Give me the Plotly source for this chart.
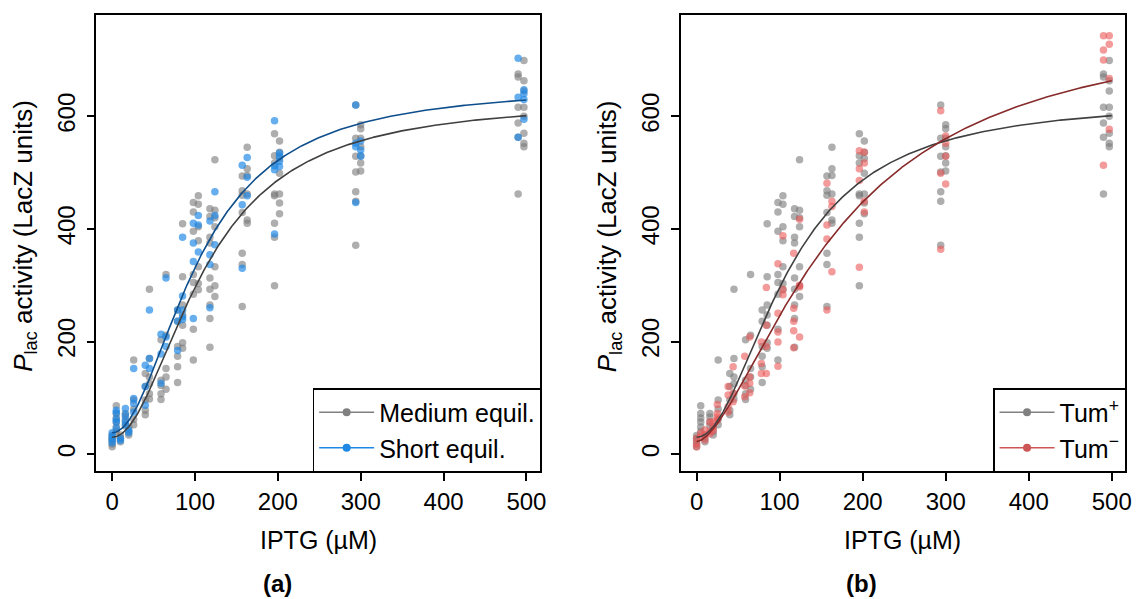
import numpy as np
import plotly.graph_objects as go

W, H = 1142, 599

# ---------------- data ----------------
# Medium equilibration / Tum+ (same measurements in both panels)
medium_conc = [0, 5, 10, 16, 20, 26, 40, 45, 59, 65, 79, 85, 98, 104,
               118, 124, 157, 163, 196, 202, 294, 300, 490, 497]
medium_values = [
    [13, 18, 24, 28, 33],
    [86, 72, 64, 57, 48, 40],
    [34, 28, 22],
    [72, 66, 57, 50],
    [48, 40, 34],
    [167, 96, 80, 62, 52],
    [143, 120, 96, 78, 70],
    [293, 170, 137, 125, 107, 98],
    [203, 131, 122, 107, 97],
    [319, 211, 152, 137, 115],
    [256, 236, 191, 174, 155, 127],
    [409, 315, 265, 247, 229, 198, 188],
    [447, 430, 396, 319, 305, 284, 222, 167],
    [459, 444, 404, 379, 333, 303, 292],
    [436, 422, 385, 375, 313, 293, 265, 241, 190],
    [523, 433, 420, 404, 333, 299, 280],
    [494, 468, 460, 429, 357, 337, 262],
    [545, 507, 495, 462, 416, 410],
    [569, 530, 517, 462, 459, 410, 385, 299],
    [556, 536, 525, 499, 462, 446, 427],
    [620, 561, 529, 501, 466, 449, 371],
    [585, 578, 561, 546, 530, 517, 503],
    [675, 670, 616, 588, 563, 462],
    [699, 663, 645, 616, 600, 570, 552, 546],
]

# Short equilibration
short_conc = [0, 5, 10, 16, 20, 26, 40, 45, 59, 65, 79, 85, 98, 104,
              118, 124, 157, 163, 196, 202, 294, 300, 490, 497]
short_values = [
    [20, 26, 32, 38],
    [78, 73, 62, 57, 46],
    [28, 24],
    [81, 70, 60, 52],
    [43, 38],
    [152, 99, 90, 75],
    [158, 120, 87],
    [256, 170, 152],
    [213, 178, 126],
    [313, 208, 191],
    [256, 236, 184],
    [385, 281, 256, 244, 239],
    [410, 375, 342, 241],
    [424, 407, 359],
    [414, 354, 337, 260],
    [466, 424, 372],
    [513, 443, 330],
    [527, 492, 459],
    [592, 512, 505, 391],
    [535, 529, 520, 511],
    [620, 552, 546, 447],
    [556, 540, 529],
    [703, 634, 563],
    [647, 640, 630, 595],
]

# Tum- strain
tumm_conc = [0, 5, 10, 16, 20, 25, 38, 44, 58, 64, 78, 84, 98, 104,
             117, 124, 157, 163, 196, 202, 294, 300, 490, 497]
tumm_values = [
    [28, 19, 13],
    [37, 30],
    [43, 34, 25],
    [57, 40, 36],
    [57, 48, 42],
    [88, 72, 66, 60],
    [120, 105, 84, 75],
    [155, 108, 93],
    [174, 121, 102],
    [208, 137, 126, 109],
    [199, 161, 143],
    [296, 229, 191, 143],
    [338, 250, 217, 199, 156],
    [388, 293, 283],
    [357, 259, 236, 219, 189],
    [417, 300, 297, 208],
    [481, 407, 382, 256],
    [449, 440, 324],
    [539, 507, 486, 332],
    [536, 517, 449, 430],
    [610, 499, 364],
    [565, 552, 529, 480],
    [743, 718, 700, 513],
    [743, 728, 667, 577],
]

# Hill-curve fit parameters: baseline, maximum, K (uM), Hill coefficient
medium_fit = (30, 630, 112, 2.0)
short_fit = (38, 655, 105, 2.0)
tumm_fit = (22, 775, 170, 1.62)

x_ticks = [0, 100, 200, 300, 400, 500]
y_ticks = [0, 200, 400, 600]


def expand(conc, values):
    xs, ys = [], []
    for c, vals in zip(conc, values):
        xs += [c] * len(vals)
        ys += vals
    return xs, ys


def hill(params):
    b, m, k, n = params
    xx = np.linspace(0, 500, 300)
    return xx, b + (m - b) * xx ** n / (k ** n + xx ** n)


# ---------------- styling ----------------
FONT = "Liberation Sans, Arial, sans-serif"
FS = 25
FS_TICK = 24
GRAY_PT = "rgba(120,120,120,0.6)"
BLUE_PT = "rgba(30,136,229,0.68)"
RED_PT = "rgba(235,88,88,0.6)"
GRAY_LN = "rgb(64,64,64)"
BLUE_LN = "rgb(14,78,140)"
RED_LN = "rgb(135,42,42)"

fig = go.Figure()

mx, my = expand(medium_conc, medium_values)
sx, sy = expand(short_conc, short_values)
tx, ty = expand(tumm_conc, tumm_values)

# panel (a)
fig.add_trace(go.Scatter(x=mx, y=my, mode="markers", xaxis="x", yaxis="y",
                         marker=dict(size=7.5, color=GRAY_PT, line=dict(width=0)),
                         showlegend=False, hoverinfo="skip"))
fig.add_trace(go.Scatter(x=sx, y=sy, mode="markers", xaxis="x", yaxis="y",
                         marker=dict(size=7.5, color=BLUE_PT, line=dict(width=0)),
                         showlegend=False, hoverinfo="skip"))
cx, cy = hill(medium_fit)
fig.add_trace(go.Scatter(x=cx, y=cy, mode="lines", xaxis="x", yaxis="y",
                         line=dict(color=GRAY_LN, width=1.6), showlegend=False))
cx, cy = hill(short_fit)
fig.add_trace(go.Scatter(x=cx, y=cy, mode="lines", xaxis="x", yaxis="y",
                         line=dict(color=BLUE_LN, width=1.6), showlegend=False))

# panel (b)
fig.add_trace(go.Scatter(x=mx, y=my, mode="markers", xaxis="x2", yaxis="y2",
                         marker=dict(size=7.5, color=GRAY_PT, line=dict(width=0)),
                         showlegend=False, hoverinfo="skip"))
fig.add_trace(go.Scatter(x=tx, y=ty, mode="markers", xaxis="x2", yaxis="y2",
                         marker=dict(size=7.5, color=RED_PT, line=dict(width=0)),
                         showlegend=False, hoverinfo="skip"))
cx, cy = hill(medium_fit)
fig.add_trace(go.Scatter(x=cx, y=cy, mode="lines", xaxis="x2", yaxis="y2",
                         line=dict(color=GRAY_LN, width=1.6), showlegend=False))
cx, cy = hill(tumm_fit)
fig.add_trace(go.Scatter(x=cx, y=cy, mode="lines", xaxis="x2", yaxis="y2",
                         line=dict(color=RED_LN, width=1.6), showlegend=False))

# legend entries
for name, col, leg, ax in [("Medium equil.", "rgb(128,128,128)", "legend", "x"),
                           ("Short equil.", "rgb(30,136,229)", "legend", "x"),
                           ("Tum<sup>+</sup>", "rgb(128,128,128)", "legend2", "x2"),
                           ("Tum<sup>−</sup>", "rgb(205,85,85)", "legend2", "x2")]:
    fig.add_trace(go.Scatter(x=[None], y=[None], mode="lines+markers", name=name,
                             xaxis=ax, yaxis="y" if ax == "x" else "y2",
                             line=dict(color=col, width=1.6),
                             marker=dict(color=col, size=8), legend=leg))

# geometry (pixels)
ax_a = (97, 543)
ax_b = (685, 1132)
top, bottom = 15, 471


def xd(p):
    return [p[0] / W, p[1] / W]


ydom = [1 - bottom / H, 1 - top / H]

common_x = dict(range=[-19, 516], tickvals=x_ticks, showline=True, linecolor="black",
                linewidth=1.5, mirror=True, ticks="outside", ticklen=8, tickwidth=1.5,
                tickcolor="black", showgrid=False, zeroline=False,
                tickfont=dict(size=FS_TICK, color="black", family=FONT),
                ticklabelstandoff=0)
common_y = dict(range=[-30, 780], tickvals=y_ticks, showline=True, linecolor="black",
                linewidth=1.5, mirror=True, ticks="outside", ticklen=8, tickwidth=1.5,
                tickcolor="black", showgrid=False, zeroline=False, tickangle=-90,
                tickfont=dict(size=FS_TICK, color="black", family=FONT),
                ticklabelstandoff=2)

leg_common = dict(xanchor="right", y=1 - (bottom + 1) / H, yanchor="bottom",
                  bordercolor="black", borderwidth=1.5, bgcolor="white",
                  font=dict(size=FS, family=FONT), itemwidth=55, tracegroupgap=0)

fig.update_layout(
    width=W, height=H, autosize=False,
    margin=dict(l=0, r=0, t=0, b=0),
    paper_bgcolor="white", plot_bgcolor="white",
    font=dict(family=FONT, size=FS, color="black"),
    xaxis=dict(domain=xd(ax_a), anchor="y", **common_x),
    yaxis=dict(domain=ydom, anchor="x", **common_y),
    xaxis2=dict(domain=xd(ax_b), anchor="y2", **common_x),
    yaxis2=dict(domain=ydom, anchor="x2", **common_y),
    legend=dict(x=(ax_a[1] + 2) / W, **leg_common),
    legend2=dict(x=(ax_b[1] + 1) / W, **leg_common),
)

annots = []
for (l, r), lab, labx in [(ax_a, "(a)", 279), (ax_b, "(b)", 867)]:
    cxp = (l + r) / 2
    annots.append(dict(text="IPTG (µM)", x=cxp / W, y=1 - 540 / H, xref="paper", yref="paper",
                       showarrow=False, font=dict(size=FS, family=FONT), xanchor="center",
                       yanchor="middle"))
    annots.append(dict(text="<b>" + lab + "</b>", x=labx / W, y=1 - 583 / H, xref="paper",
                       yref="paper", showarrow=False, font=dict(size=FS - 1, family=FONT),
                       xanchor="center", yanchor="middle"))
    annots.append(dict(text="<i>P</i><sub>lac</sub> activity (LacZ units)",
                       x=(l - 73) / W, y=1 - 236 / H, xref="paper", yref="paper",
                       showarrow=False, textangle=-90, font=dict(size=26, family=FONT),
                       xanchor="center", yanchor="middle"))
fig.update_layout(annotations=annots)

fig.write_html("out.html")
